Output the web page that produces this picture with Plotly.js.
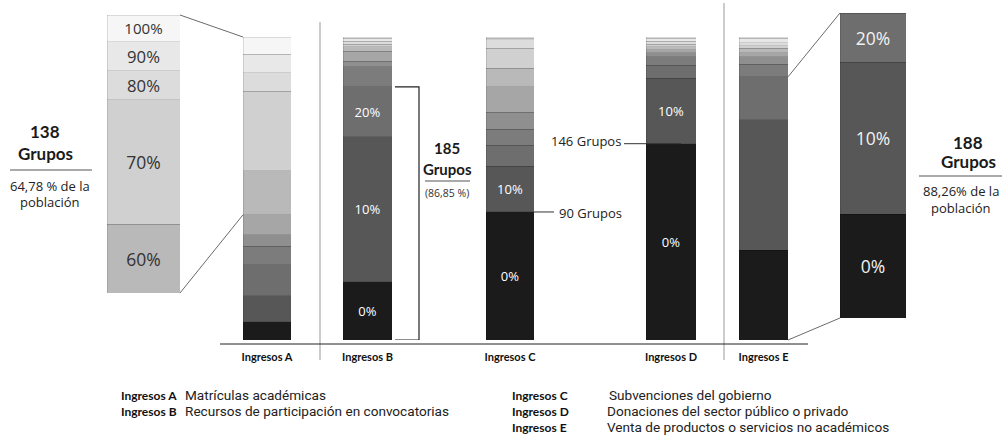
<!DOCTYPE html>
<html><head><meta charset="utf-8">
<script src="https://cdn.plot.ly/plotly-3.0.1.min.js"></script>
<style>html,body{margin:0;padding:0;background:#fff}#chart{width:1002px;height:446px}</style>
</head><body><div id="chart"></div>
<script>
// ---- data (number of groups per % level, bottom to top) ----
const categories = ['Ingresos A','Ingresos B','Ingresos C','Ingresos D','Ingresos E'];
const levels = ['0%','10%','20%','30%','40%','50%','60%','70%','80%','90%','100%'];
const ingresosA = [13,18,22,13,8,14,31,56,13,13,12];
const ingresosB = [41,102,35,14,4,7,3,2,2,2,1];
const ingresosC = [90,32,15,11,12,18,13,14,6,1,1];
const ingresosD = [138,46,9,6,3,2,2,2,2,2,1];
const ingresosE = [63,92,30,9,5,3,3,2,2,3,1];
const labelledLevels = [0,3,2,2,0];
const descriptions = ['Matrículas académicas','Recursos de participación en convocatorias','Subvenciones del gobierno','Donaciones del sector público o privado','Venta de productos o servicios no académicos'];
const totalGroups = 213;
const zoomLeftFrom = 6;   // A: levels 60%..100%
const zoomRightTo = 3;    // E: levels 0%..20%

// ---- style / layout ----
const W = 1002, H = 446;
const FONT = '"Open Sans", Lato, sans-serif';
const BFONT = 'Lato, "Open Sans", sans-serif';
const LFONT = 'Roboto, "Open Sans", sans-serif';
const levelColors = ['#1b1b1c','#575757','#6e6e6e','#7c7c7c','#8f8f8f','#a6a6a6','#b9b9b9','#d0d0d0','#dcdcdc','#e8e8e8','#f6f6f6'];
const series = [ingresosA, ingresosB, ingresosC, ingresosD, ingresosE];
const barSpans = [[243,291],[343,392],[486,534],[646,696],[739,788]];
const mainTop = 37, mainBot = 340;
const zoomL = {x:[107,180], y:[15,293]};
const zoomR = {x:[840,906], y:[13,318]};
const px = p => p / W, py = p => 1 - p / H;
const cum = (arr, n) => arr.slice(0, n).reduce((a, b) => a + b, 0);
const cumA = cum(ingresosA, zoomLeftFrom);
const cumE = cum(ingresosE, zoomRightTo);

const traces = [];
const layout = {
  width: W, height: H, margin: {l:0, r:0, t:0, b:0},
  paper_bgcolor: '#fff', plot_bgcolor: 'rgba(0,0,0,0)',
  barmode: 'stack', bargap: 0, showlegend: false,
  font: {family: FONT, color: '#222'},
  yaxis: {domain: [py(mainBot), py(mainTop)], range: [0, totalGroups], visible: false, fixedrange: true},
  yaxis2: {domain: [py(zoomL.y[1]), py(zoomL.y[0])], range: [cumA, totalGroups], visible: false, anchor: 'x6'},
  yaxis3: {domain: [py(zoomR.y[1]), py(zoomR.y[0])], range: [0, cumE], visible: false, anchor: 'x7'},
  shapes: [], annotations: []
};
const lineStyle = {color: 'rgba(0,0,0,0.16)', width: 0.7};

series.forEach((vals, i) => {
  const ax = i === 0 ? 'x' : 'x' + (i + 1);
  layout['xaxis' + (i === 0 ? '' : i + 1)] = {
    type: 'category', domain: [px(barSpans[i][0]), px(barSpans[i][1])], range: [-0.5, 0.5],
    anchor: 'y', showgrid: false, zeroline: false, showline: false, ticks: '',
    tickfont: {family: BFONT, size: 11, color: '#111', weight: 'bold'}, ticklabelstandoff: 9
  };
  vals.forEach((v, j) => {
    traces.push({
      type: 'bar', x: [categories[i]], y: [v], xaxis: ax, yaxis: 'y',
      marker: {color: levelColors[j], line: lineStyle},
      text: [j < labelledLevels[i] ? levels[j] : ''], textposition: 'inside', insidetextanchor: 'middle',
      textfont: {family: FONT, size: 13, color: '#fff'}, hoverinfo: 'skip'
    });
  });
});

// zoom columns
layout.xaxis6 = {type: 'category', domain: [px(zoomL.x[0]), px(zoomL.x[1])], range: [-0.5, 0.5], anchor: 'y2', visible: false};
layout.xaxis7 = {type: 'category', domain: [px(zoomR.x[0]), px(zoomR.x[1])], range: [-0.5, 0.5], anchor: 'y3', visible: false};
ingresosA.forEach((v, j) => traces.push({
  type: 'bar', x: [categories[0]], y: [v], xaxis: 'x6', yaxis: 'y2',
  marker: {color: levelColors[j], line: lineStyle},
  text: [j >= zoomLeftFrom ? levels[j] : ''], textposition: 'inside', insidetextanchor: 'middle',
  textfont: {family: FONT, size: 17.5, color: '#333'}, hoverinfo: 'skip'
}));
ingresosE.forEach((v, j) => traces.push({
  type: 'bar', x: [categories[4]], y: [v], xaxis: 'x7', yaxis: 'y3',
  marker: {color: levelColors[j], line: lineStyle},
  text: [j < zoomRightTo ? levels[j] : ''], textposition: 'inside', insidetextanchor: 'middle',
  textfont: {family: FONT, size: 17.5, color: '#f2f2f2'}, hoverinfo: 'skip'
}));

// pixel helpers for connectors
const yMain = v => mainBot - v / totalGroups * (mainBot - mainTop);
const yZL = v => zoomL.y[1] - (v - cumA) / (totalGroups - cumA) * (zoomL.y[1] - zoomL.y[0]);
const yZR = v => zoomR.y[1] - v / cumE * (zoomR.y[1] - zoomR.y[0]);
function seg(x0, y0, x1, y1, color, width) {
  layout.shapes.push({type: 'line', xref: 'paper', yref: 'paper', x0: px(x0), y0: py(y0), x1: px(x1), y1: py(y1),
    line: {color: color, width: width}});
}
seg(zoomL.x[1], yZL(totalGroups), barSpans[0][0], yMain(totalGroups), '#444', 0.8);
seg(zoomL.x[1], yZL(cumA), barSpans[0][0], yMain(cumA), '#444', 0.8);
seg(barSpans[4][1], yMain(cumE), zoomR.x[0], yZR(cumE), '#444', 0.8);
seg(barSpans[4][1], yMain(0), zoomR.x[0], yZR(0), '#444', 0.8);
// separators & axis
seg(320, 22, 320, 360, '#999', 1);
seg(724, 3, 724, 360, '#999', 1);
seg(220, 344, 808, 344, '#222', 1);
// B bracket
const cumB = cum(ingresosB, 3);
layout.shapes.push({type: 'path', xref: 'paper', yref: 'y',
  path: `M ${px(395)},${cumB} L ${px(419)},${cumB} L ${px(419)},0 L ${px(395)},0`, line: {color: '#222', width: 1.2}});
// C / D callout lines
layout.shapes.push({type: 'line', xref: 'paper', yref: 'y', x0: px(534), x1: px(554), y0: ingresosC[0], y1: ingresosC[0], line: {color: '#333', width: 1}});
layout.shapes.push({type: 'line', xref: 'paper', yref: 'y', x0: px(624), x1: px(681), y0: ingresosD[0], y1: ingresosD[0], line: {color: '#333', width: 1}});
// summary rules
seg(10, 170, 92, 170, '#555', 1);
seg(919, 176, 1002, 176, '#555', 1);
seg(425, 181, 470, 181, '#555', 1);

function ann(text, x, y, opts) {
  layout.annotations.push(Object.assign({text: text, xref: 'paper', yref: 'paper', x: px(x), y: py(y),
    showarrow: false, xanchor: 'center', yanchor: 'middle', borderpad: 0,
    font: {family: FONT, size: 13, color: '#222'}}, opts || {}));
}
const bold17 = {family: BFONT, size: 17, color: '#1a1a1a', weight: 'bold'};
ann('138', 45, 131, {font: bold17});
ann('Grupos', 45, 153, {font: bold17});
ann('64,78 % de la', 50, 186);
ann('población', 50, 202);
ann('188', 968, 142, {font: bold17});
ann('Grupos', 968, 162, {font: bold17});
ann('88,26% de la', 961, 191);
ann('población', 961, 208);
ann('185', 447, 148, {font: {family: BFONT, size: 15, color: '#1a1a1a', weight: 'bold'}});
ann('Grupos', 447, 169, {font: {family: BFONT, size: 15, color: '#1a1a1a', weight: 'bold'}});
ann('(86,85 %)', 447, 193, {font: {family: FONT, size: 10.5, color: '#333'}});
ann('90 Grupos', 558, 213, {xanchor: 'left'});
ann('146 Grupos', 622, 141, {xanchor: 'right'});

// legend
const legPos = [[120,184,395],[120,184,411],[511,608,395],[511,606,411],[511,606,427]];
categories.forEach((c, i) => {
  ann(c, legPos[i][0], legPos[i][2], {xanchor: 'left', font: {family: BFONT, size: 12, color: '#111', weight: 'bold'}});
  ann(descriptions[i], legPos[i][1], legPos[i][2], {xanchor: 'left', font: {family: LFONT, size: 13.6, color: '#222'}});
});

Plotly.newPlot('chart', traces, layout, {staticPlot: true, displayModeBar: false});
</script></body></html>
